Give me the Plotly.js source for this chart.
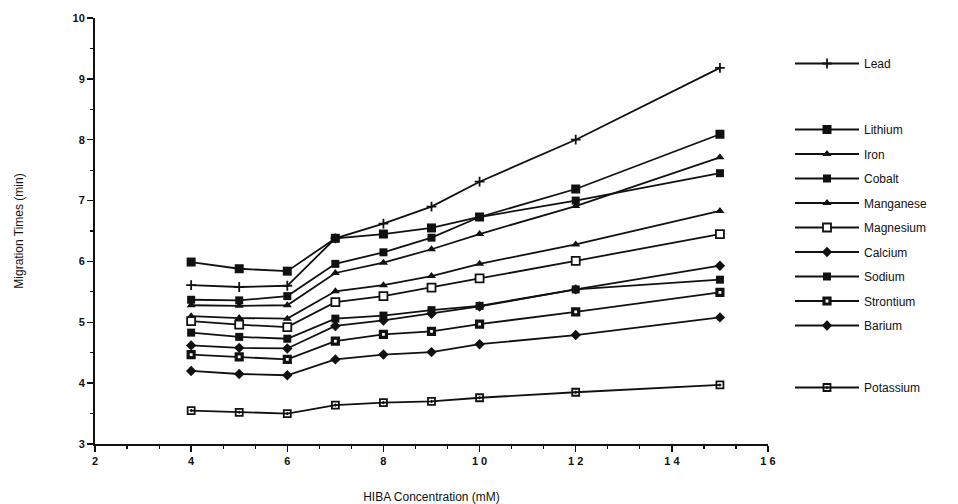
<!DOCTYPE html>
<html>
<head>
<meta charset="utf-8">
<script src="https://cdn.plot.ly/plotly-3.0.1.min.js"></script>
<style>html,body{margin:0;padding:0;background:#fff;}#chart{width:958px;height:504px;}</style>
</head>
<body>
<div id="chart"></div>
<script>
// HIBA concentration (mM)
const concentrations = [4, 5, 6, 7, 8, 9, 10, 12, 15];

// Migration times (min)
const lead      = [5.61, 5.58, 5.60, 6.38, 6.62, 6.90, 7.31, 8.00, 9.18];
const lithium   = [5.99, 5.88, 5.84, 6.38, 6.45, 6.55, 6.73, 7.19, 8.09];
const iron      = [5.28, 5.27, 5.28, 5.81, 5.98, 6.20, 6.45, 6.91, 7.71];
const cobalt    = [5.37, 5.36, 5.43, 5.96, 6.15, 6.39, 6.73, 7.00, 7.45];
const manganese = [5.10, 5.07, 5.06, 5.51, 5.61, 5.76, 5.96, 6.28, 6.83];
const magnesium = [5.02, 4.96, 4.92, 5.33, 5.43, 5.57, 5.72, 6.01, 6.45];
const calcium   = [4.62, 4.58, 4.57, 4.94, 5.03, 5.14, 5.26, 5.54, 5.93];
const sodium    = [4.83, 4.76, 4.73, 5.06, 5.11, 5.20, 5.27, 5.54, 5.70];
const strontium = [4.47, 4.43, 4.39, 4.69, 4.80, 4.85, 4.97, 5.17, 5.49];
const barium    = [4.20, 4.15, 4.13, 4.39, 4.47, 4.51, 4.64, 4.79, 5.08];
const potassium = [3.55, 3.52, 3.50, 3.64, 3.68, 3.70, 3.76, 3.85, 3.97];

const seriesNames = ["Lead", "Lithium", "Iron", "Cobalt", "Manganese", "Magnesium",
                     "Calcium", "Sodium", "Strontium", "Barium", "Potassium"];
const seriesValues = [lead, lithium, iron, cobalt, manganese, magnesium,
                      calcium, sodium, strontium, barium, potassium];

const xTickVals = [2, 4, 6, 8, 10, 12, 14, 16];
const xTickText = ["2", "4", "6", "8", "1 0", "1 2", "1 4", "1 6"];
const yTickVals = [3, 4, 5, 6, 7, 8, 9, 10];

// styling
const INK = "#111";
const markerStyles = {
  Lead:      {symbol: "cross-thin-open", size: 7, color: INK, line: {color: INK, width: 1.8}},
  Lithium:   {symbol: "square", size: 9, color: INK, line: {color: INK, width: 0}},
  Iron:      {symbol: "triangle-up", size: 8, color: INK, line: {color: INK, width: 0}},
  Cobalt:    {symbol: "square", size: 8, color: INK, line: {color: INK, width: 0}},
  Manganese: {symbol: "triangle-up", size: 8, color: INK, line: {color: INK, width: 0}},
  Magnesium: {symbol: "square", size: 8, color: "#fff", line: {color: INK, width: 1.8}},
  Calcium:   {symbol: "diamond", size: 8, color: INK, line: {color: INK, width: 0}},
  Sodium:    {symbol: "square", size: 8, color: INK, line: {color: INK, width: 0}},
  Strontium: {symbol: "square", size: 6, color: "#fff", line: {color: INK, width: 3.2}},
  Barium:    {symbol: "diamond", size: 8, color: INK, line: {color: INK, width: 0}},
  Potassium: {symbol: "square-open-dot", size: 7, color: INK, line: {color: INK, width: 1.8}}
};
function legendFor(name) {
  if (name === "Lead") return "legend";
  if (name === "Potassium") return "legend3";
  return "legend2";
}

const traces = seriesNames.map((name, i) => ({
  type: "scatter",
  mode: "lines+markers",
  name: name,
  x: concentrations,
  y: seriesValues[i],
  line: {color: INK, width: 1.8},
  marker: markerStyles[name],
  legend: legendFor(name),
  legendgroup: "g" + i
}));

const W = 958, H = 504;
const L = 95, R = 190, T = 18, B = 60;
const pw = W - L - R, ph = H - T - B;
const px = v => (v - L) / pw;
const py = v => (H - B - v) / ph;

const legendFont = {family: "Liberation Sans, Arial, sans-serif", size: 12, color: INK};
const legendBase = {
  font: legendFont, bgcolor: "rgba(0,0,0,0)", borderwidth: 0,
  xanchor: "left", yanchor: "top", traceorder: "grouped", tracegroupgap: 5.5,
  itemwidth: 64, itemclick: false, itemdoubleclick: false
};

const layout = {
  width: W, height: H,
  margin: {l: L, r: R, t: T, b: B},
  paper_bgcolor: "#fff", plot_bgcolor: "#fff",
  font: {family: "Liberation Sans, Arial, sans-serif", color: INK},
  showlegend: true,
  xaxis: {
    range: [2, 16], tickvals: xTickVals, ticktext: xTickText,
    ticks: "outside", ticklen: 6, tickwidth: 1.5, tickcolor: INK,
    showline: true, linecolor: INK, linewidth: 2, showgrid: false, zeroline: false,
    tickfont: {size: 11, color: INK, family: "Liberation Sans, Arial, sans-serif", weight: "bold"},
    minor: {dtick: 2 / 3, tick0: 2, ticks: "outside", ticklen: 3, tickwidth: 1.2, tickcolor: INK, showgrid: false},
    title: {text: "HIBA Concentration (mM)", standoff: 26, font: {size: 12, color: INK}},
    automargin: false
  },
  yaxis: {
    range: [3, 10], tickvals: yTickVals,
    ticks: "outside", ticklen: 6, tickwidth: 1.5, tickcolor: INK,
    showline: true, linecolor: INK, linewidth: 2, showgrid: false, zeroline: false,
    tickfont: {size: 11, color: INK, family: "Liberation Sans, Arial, sans-serif", weight: "bold"},
    minor: {dtick: 0.5, ticks: "outside", ticklen: 3, tickwidth: 1.2, tickcolor: INK, showgrid: false},
    title: {text: "Migration Times (min)", standoff: 46, font: {size: 12, color: INK}},
    automargin: false
  },
  legend: Object.assign({}, legendBase, {x: px(790), y: py(49)}),
  legend2: Object.assign({}, legendBase, {x: px(790), y: py(115)}),
  legend3: Object.assign({}, legendBase, {x: px(790), y: py(373)})
};

Plotly.newPlot("chart", traces, layout, {staticPlot: true, displayModeBar: false});
</script>
</body>
</html>
